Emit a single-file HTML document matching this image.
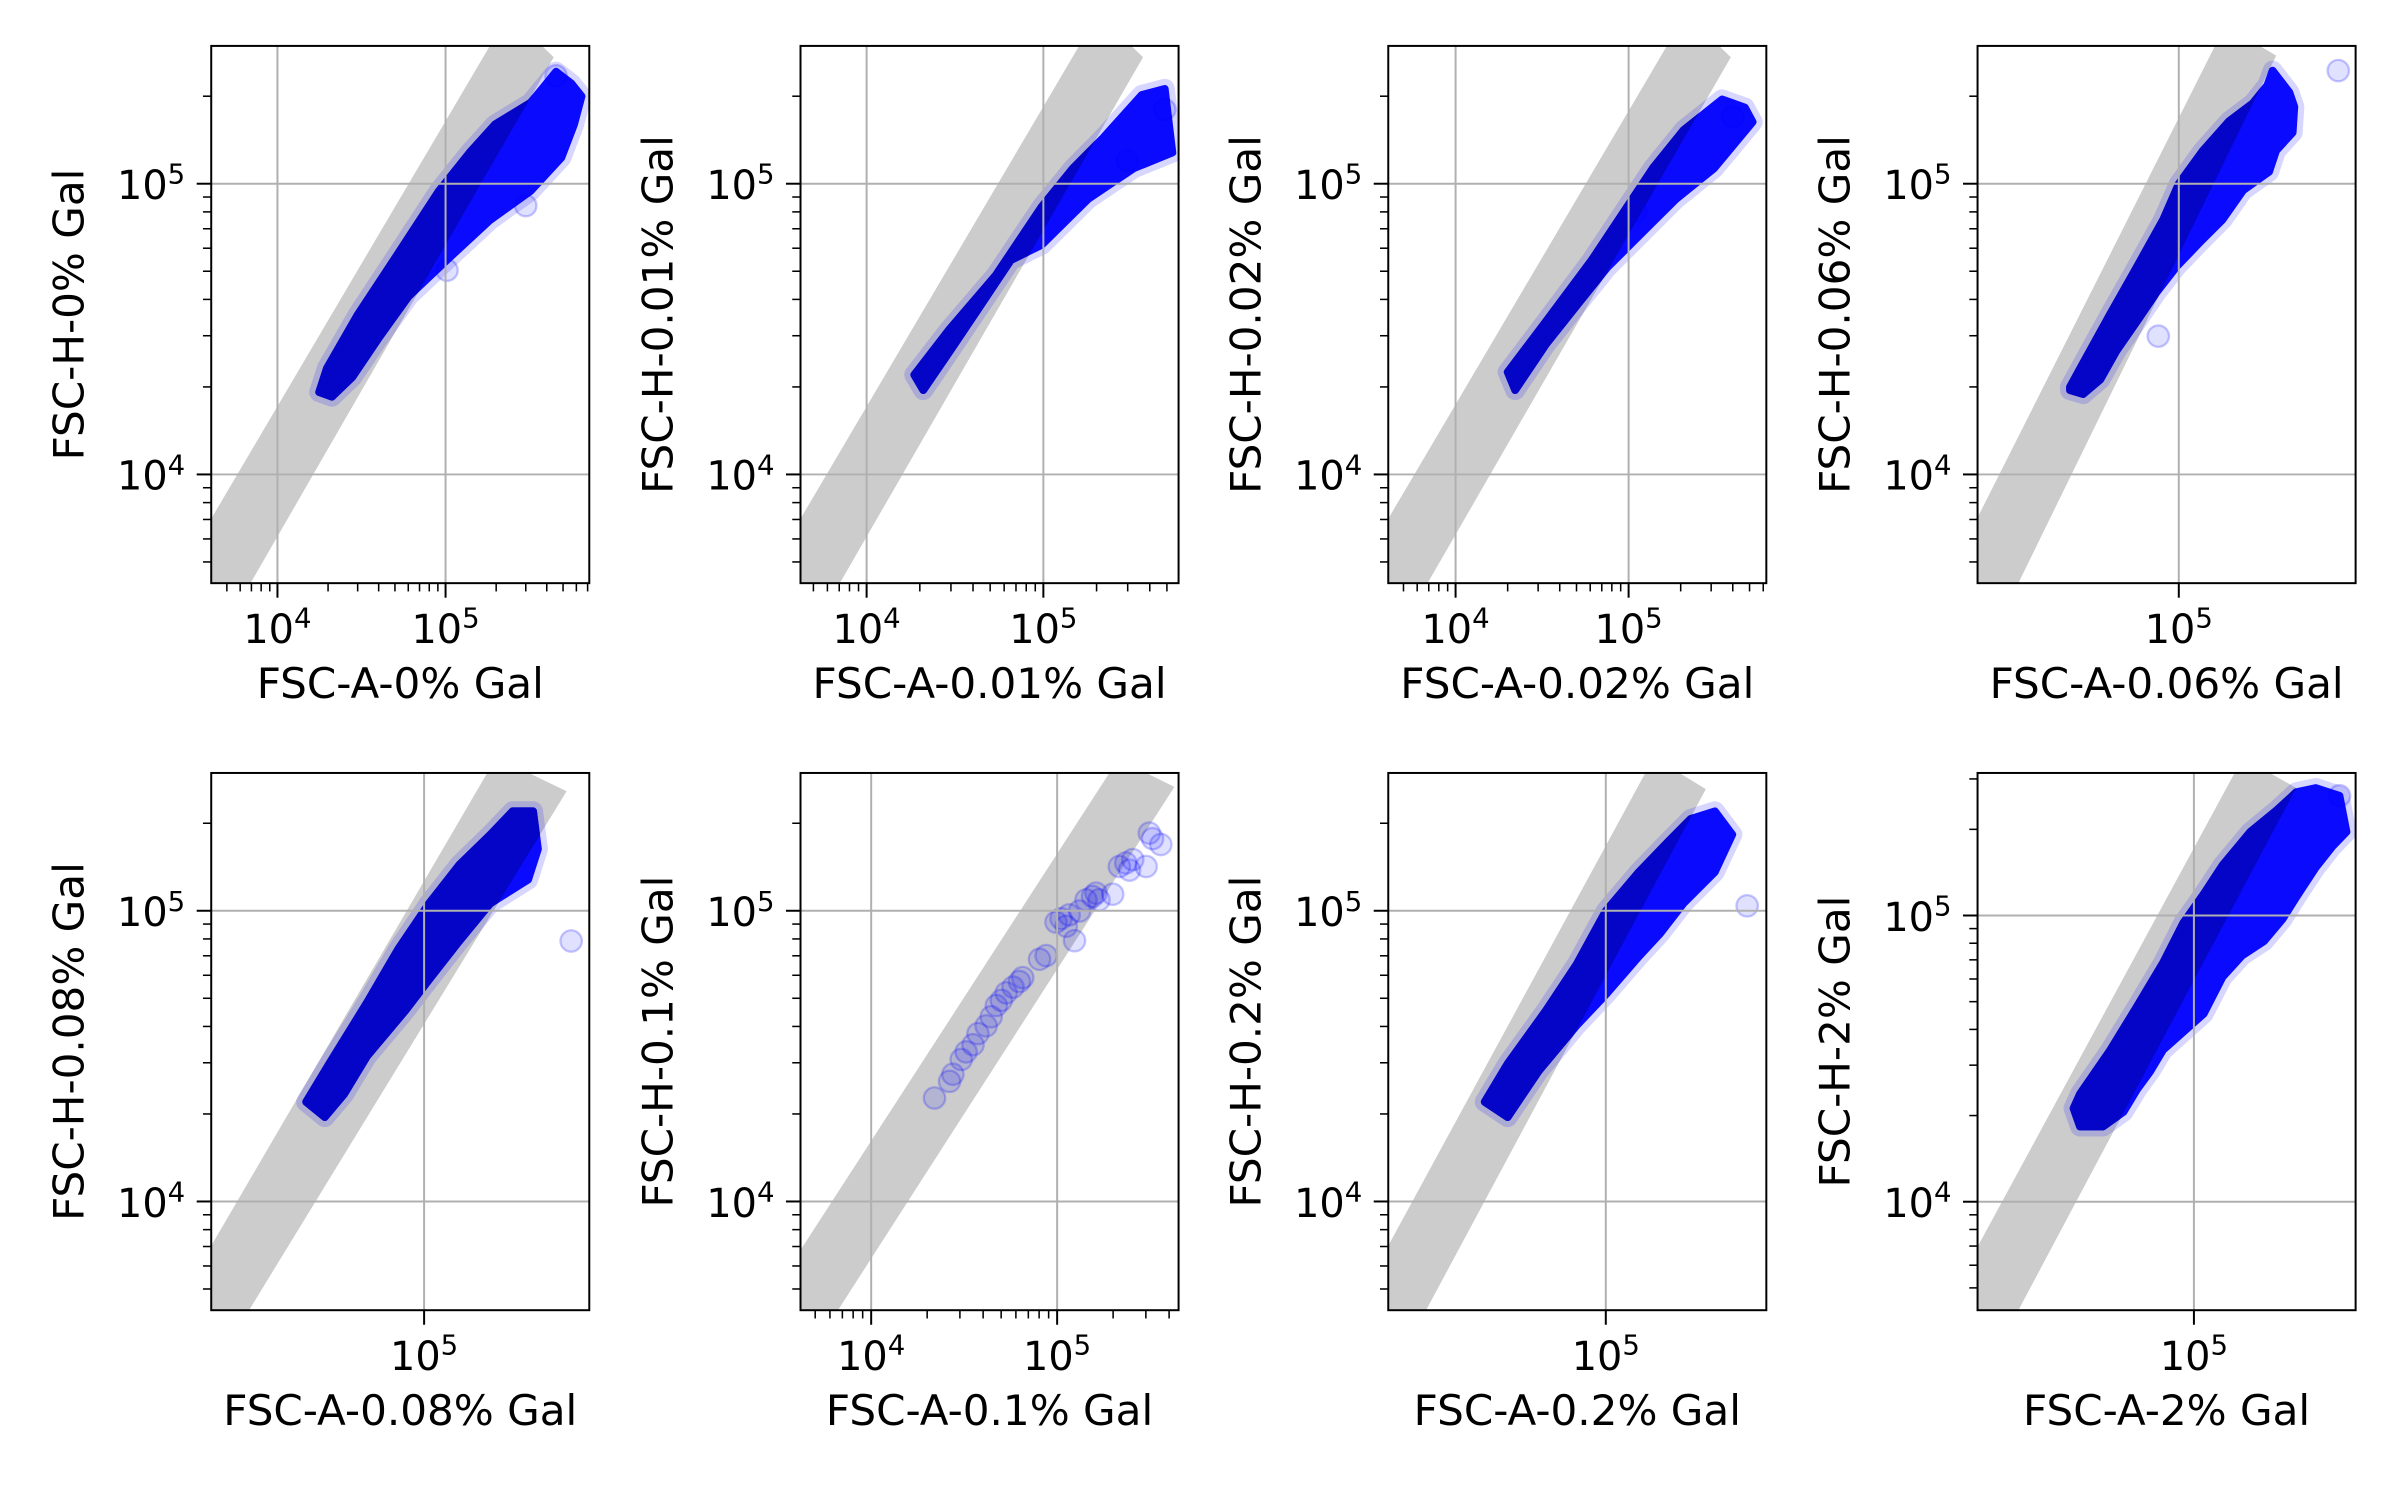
<!DOCTYPE html>
<html><head><meta charset="utf-8">
<style>
html,body{margin:0;padding:0;background:#fff;}
svg{display:block;}
text{font-family:"DejaVu Sans","Liberation Sans",sans-serif;fill:#000;}
</style></head>
<body>
<svg id="fig" width="2400" height="1500" viewBox="0 0 1568 980" xmlns="http://www.w3.org/2000/svg"></svg>
<script>
// ---- data: cloud envelopes (FSC-A, FSC-H) per condition ----
const p1A=[17700,19700,29900,52300,91200,139000,197000,321000,454000,561000,645000,582000,489000,321000,184000,105000,60300,39600,27900,21100];
const p1H=[19200,23200,35300,57700,94400,128000,160000,190000,243000,221000,200000,160000,123000,94400,75000,55500,41000,29200,21600,18500];
const p1OutA=[454000,300000,102000];
const p1OutH=[235000,84100,50400];
const p2A=[18600,29400,53700,98000,147000,218000,360000,486000,537000,326000,179000,98000,65600,44000,29400,20900];
const p2H=[22000,31600,48400,83400,113000,144000,202000,212000,128000,113000,88500,61600,54600,38000,26400,19500];
const p2OutA=[486000,300000];
const p2OutH=[180000,120000];
const p3A=[20000,33300,61200,92000,138000,208000,347000,470000,521000,313000,188000,125000,75200,50000,33300,22100];
const p3H=[22500,33600,54600,78700,113000,153000,195000,183000,163000,113000,88500,69500,51400,38000,28000,19500];
const p3OutA=[400000,110000];
const p3OutH=[170000,80000];
const p4A=[65000,67600,76200,84700,94000,100000,110000,122000,134000,142000,145000,155000,158000,157000,147000,143000,129000,119000,109000,99100,91600,84700,78200,73300,68500,65000];
const p4H=[20000,23100,35600,51800,75300,100000,130000,164000,189000,218000,245000,206000,184000,150000,130000,110000,94800,75300,63200,51800,42300,33600,26700,21200,18900,19500];
const p4OutA=[188000,92200];
const p4OutH=[245000,29900];
const p5A=[62700,68700,79800,90200,102000,115000,130000,142000,154000,157000,151000,130000,115000,102000,92900,79800,72900,67500];
const p5H=[22000,29800,48400,73800,106000,144000,183000,220000,220000,163000,128000,106000,78700,57900,45400,31600,23400,19500];
const p5OutA=[179000];
const p5OutH=[78700];
const p6A=[21900,26400,27500,30500,32400,35300,37500,41500,44200,47100,50100,53200,57900,62700,65300,80400,87300,98600,105000,112000,124000,116000,132000,143000,155000,168000,162000,199000,216000,234000,255000,301000,313000,326000,361000,245000];
const p6H=[22700,25900,27400,30800,32700,34600,37800,40200,43200,47200,49200,52200,54600,57100,58900,68100,70100,91400,94000,88500,78900,96800,99800,109000,112000,109000,115000,114000,142000,146000,150000,142000,185000,177000,169000,138000];
const p7A=[61900,67800,78900,89100,100000,114000,128000,140000,154000,165000,154000,136000,124000,114000,100000,89100,76600,67800];
const p7H=[22000,29800,45400,65500,99800,136000,173000,207000,220000,183000,136000,106000,83400,69500,51400,40300,28000,19500];
const p7OutA=[175000];
const p7OutH=[104000];
const p8A=[62100,63700,71800,79800,88500,95900,104000,112000,125000,139000,150000,162000,178000,183000,173000,162000,150000,142000,132000,121000,112000,104000,95900,88500,84000,79800,75700,69800,63700];
const p8H=[21200,23800,33900,48100,68400,94400,119000,150000,196000,234000,270000,279000,262000,196000,174000,147000,116000,97000,81300,72400,61000,45400,39200,33900,28400,24600,20600,18300,18300];
const p8OutA=[178000];
const p8OutH=[262000];
const conditions=['0%','0.01%','0.02%','0.06%','0.08%','0.1%','0.2%','2%'];

const NS='http://www.w3.org/2000/svg';
const svg=document.getElementById('fig');
function mk(tag,attrs,parent){const e=document.createElementNS(NS,tag);for(const k in attrs)e.setAttribute(k,attrs[k]);(parent||svg).appendChild(e);return e;}

const colL=[138,523,907,1292],rowT=[30,505],W=247,H=351;
const bandA=[[0,.12],[.737,1],[.875,1],[.906,.979],[.104,0],[0,0]];
const panels=[
 {col:0,row:0,xr:[3.606,5.855],yr:[3.626,5.474],minorX:true,band:bandA,cA:p1A,cH:p1H,oA:p1OutA,oH:p1OutH},
 {col:1,row:0,xr:[3.626,5.765],yr:[3.626,5.474],minorX:true,band:bandA,cA:p2A,cH:p2H,oA:p2OutA,oH:p2OutH},
 {col:2,row:0,xr:[3.611,5.796],yr:[3.626,5.474],minorX:true,band:bandA,cA:p3A,cH:p3H,oA:p3OutA,oH:p3OutH},
 {col:3,row:0,xr:[4.654,5.304],yr:[3.626,5.474],minorX:false,band:[[0,.122],[.628,1],[.746,1],[.79,.982],[.108,0],[0,0]],cA:p4A,cH:p4H,oA:p4OutA,oH:p4OutH},
 {col:0,row:1,xr:[4.634,5.284],yr:[3.626,5.474],minorX:false,band:[[0,.12],[.73,1],[.84,1],[.94,.966],[.10,0],[0,0]],cA:p5A,cH:p5H,oA:p5OutA,oH:p5OutH},
 {col:1,row:1,xr:[3.62,5.653],yr:[3.626,5.474],minorX:true,band:[[0,.112],[.817,1],[.914,1],[.989,.974],[.099,0],[0,0]],cA:null,cH:null,oA:p6A,oH:p6H},
 {col:2,row:1,xr:[4.626,5.276],yr:[3.626,5.474],minorX:false,band:[[0,.12],[.68,1],[.77,1],[.84,.97],[.10,0],[0,0]],cA:p7A,cH:p7H,oA:p7OutA,oH:p7OutH},
 {col:3,row:1,xr:[4.628,5.278],yr:[3.621,5.498],minorX:false,band:[[0,.118],[.68,1],[.773,1],[.843,.972],[.108,0],[0,0]],cA:p8A,cH:p8H,oA:p8OutA,oH:p8OutH}
];

panels.forEach((p,i)=>{
  const x0=colL[p.col],y0=rowT[p.row];
  const sx=v=>x0+(Math.log10(v)-p.xr[0])/(p.xr[1]-p.xr[0])*W;
  const sy=v=>y0+H-(Math.log10(v)-p.yr[0])/(p.yr[1]-p.yr[0])*H;
  const g=mk('g',{});
  
  
  const cp=mk('clipPath',{id:'clip'+i},g);
  mk('rect',{x:x0,y:y0,width:W,height:H},cp);
  const bandPts=p.band.map(q=>(x0+q[0]*W)+','+(y0+H-q[1]*H)).join(' ');
  const bcp=mk('clipPath',{id:'bclip'+i},g);
  mk('polygon',{points:bandPts},bcp);
  const plot=mk('g',{'clip-path':'url(#clip'+i+')'},g);
  // band
  const band=mk('polygon',{points:bandPts,fill:'#cccccc'},plot);
  
  
  // cloud
  if(p.cA){
    const pts=p.cA.map((a,k)=>sx(a).toFixed(1)+','+sy(p.cH[k]).toFixed(1)).join(' ');
    const halo=mk('polygon',{points:pts,fill:'none',stroke:'rgba(0,0,255,0.16)','stroke-width':13,'stroke-linejoin':'round'},plot);
    
    
    const cloud=mk('polygon',{points:pts,fill:'#0a0aff',stroke:'#0a0aff','stroke-width':5,'stroke-linejoin':'round'},plot);
    
    
    const bg=mk('g',{'clip-path':'url(#bclip'+i+')'},plot);
    const dark=mk('polygon',{points:pts,fill:'#0505c8',stroke:'#0505c8','stroke-width':5,'stroke-linejoin':'round'},bg);
    
    
  }
  p.oA.forEach((a,k)=>{
    const c=mk('circle',{cx:sx(a),cy:sy(p.oH[k]),r:7,fill:'rgba(0,0,255,0.12)',stroke:'rgba(0,0,255,0.22)','stroke-width':1.5},plot);
    
    
  });
  // grid
  [1e4,1e5].forEach(v=>{
    const lx=Math.log10(v);
    if(lx>=p.xr[0]&&lx<=p.xr[1]){const l=mk('line',{x1:sx(v),x2:sx(v),y1:y0,y2:y0+H,stroke:'#b0b0b0','stroke-width':1.3},plot);}
    if(lx>=p.yr[0]&&lx<=p.yr[1]){const l=mk('line',{x1:x0,x2:x0+W,y1:sy(v),y2:sy(v),stroke:'#b0b0b0','stroke-width':1.3},plot);}
  });
  // spines
  const fr=mk('rect',{x:x0,y:y0,width:W,height:H,fill:'none',stroke:'#000','stroke-width':1.3},g);
  
  
  // ticks
  for(let e=3;e<=6;e++){
    for(let m=1;m<=9;m++){
      const v=m*Math.pow(10,e),lv=Math.log10(v);
      const major=(m===1);
      if(lv>=p.yr[0]-1e-6&&lv<=p.yr[1]+1e-6){
        mk('line',{x1:x0,x2:x0-(major?9.5:5.4),y1:sy(v),y2:sy(v),stroke:'#000','stroke-width':major?1.3:1},g);
        if(major){
          const t=mk('text',{x:x0-17,y:sy(v)+10,'text-anchor':'end','font-size':26},g);
          
          
          mk('tspan',{},t).textContent='10';
          const s=mk('tspan',{dy:-10,'font-size':18},t);s.textContent=String(e);
        }
      }
      if((major||p.minorX)&&lv>=p.xr[0]-1e-6&&lv<=p.xr[1]+1e-6){
        mk('line',{x1:sx(v),x2:sx(v),y1:y0+H,y2:y0+H+(major?9.5:5.4),stroke:'#000','stroke-width':major?1.3:1},g);
        if(major){
          const t=mk('text',{x:sx(v),y:y0+H+39,'text-anchor':'middle','font-size':26},g);
          
          
          mk('tspan',{},t).textContent='10';
          const s=mk('tspan',{dy:-10,'font-size':18},t);s.textContent=String(e);
        }
      }
    }
  }
  // axis labels
  const xl=mk('text',{x:x0+W/2,y:y0+H+75,'text-anchor':'middle','font-size':27.5},g);
  xl.textContent='FSC-A-'+conditions[i]+' Gal';
  
  
  const yx=x0-93,yy=y0+H/2;
  const yl=mk('text',{x:yx,y:yy,'text-anchor':'middle','dominant-baseline':'central','font-size':27.5,transform:'rotate(-90 '+yx+' '+yy+')'},g);
  yl.textContent='FSC-H-'+conditions[i]+' Gal';
  
  
});
</script>
</body></html>
